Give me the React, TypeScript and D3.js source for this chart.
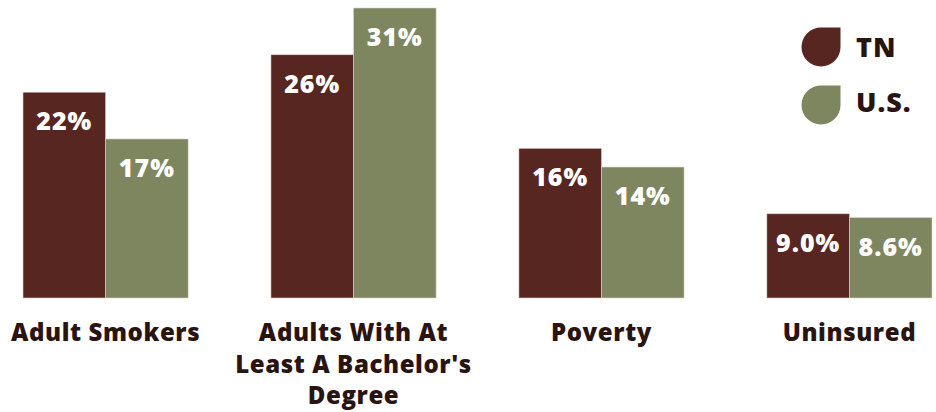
import React from "react";
import * as d3 from "d3";

const categories = ["Adult Smokers", "Adults With At|Least A Bachelor's|Degree", "Poverty", "Uninsured"];
const series = ["TN", "U.S."];
const tnValues = [22, 26, 16, 9.0];
const usValues = [17, 31, 14, 8.6];
const tnLabels = ["22%", "26%", "16%", "9.0%"];
const usLabels = ["17%", "31%", "14%", "8.6%"];
const colors = ["#582621", "#7e8660"];

const W = 936;
const H = 412;
const FONT = "'Open Sans', Lato, sans-serif";
const TEXT = "#2a1411";

export default function App() {
  const baseline = 298;
  const x0 = d3.scaleBand<number>().domain(d3.range(categories.length)).range([23, 932]).paddingInner(0.334).paddingOuter(0);
  const x1 = d3.scaleBand<number>().domain([0, 1]).range([0, x0.bandwidth()]).padding(0);
  const y = d3.scaleLinear().domain([0, 31]).range([baseline, 8]);
  const vals = [tnValues, usValues];
  const labs = [tnLabels, usLabels];

  const leaf = (cx: number, cy: number, r: number) =>
    `M${cx},${cy - r} L${cx + r},${cy - r} L${cx + r},${cy} A${r},${r} 0 1 1 ${cx},${cy - r} Z`;

  return (
    <svg width={W} height={H} style={{ position: "absolute", left: 0, top: 0 }}>
      <rect width={W} height={H} fill="#fff" />
      {categories.map((c, i) => (
        <g key={c} transform={`translate(${x0(i)},0)`}>
          {[0, 1].map((s) => {
            const v = vals[s][i];
            const bx = x1(s)!;
            const bw = x1.bandwidth();
            return (
              <g key={s}>
                <rect x={bx} y={y(v)} width={bw} height={baseline - y(v)} fill={colors[s]} stroke="#d9d2cc" strokeWidth={0.6} />
                <text x={bx + bw / 2} y={y(v) + 38} textAnchor="middle" fill="#fff" fontFamily={FONT} fontWeight={800} fontSize={25} letterSpacing={1}>
                  {labs[s][i]}
                </text>
              </g>
            );
          })}
          <text textAnchor="middle" fill={TEXT} fontFamily={FONT} fontWeight={800} fontSize={24} letterSpacing={0.6}>
            {c.split("|").map((ln, k) => (
              <tspan key={k} x={x0.bandwidth() / 2} y={341 + k * 31.5}>{ln}</tspan>
            ))}
          </text>
        </g>
      ))}
      {series.map((s, i) => (
        <g key={s}>
          <path d={leaf(821, 47 + i * 58, 19.5)} fill={colors[i]} />
          <text x={856} y={57 + i * 55} fill={TEXT} fontFamily={FONT} fontWeight={800} fontSize={27} letterSpacing={1}>{s}</text>
        </g>
      ))}
    </svg>
  );
}
